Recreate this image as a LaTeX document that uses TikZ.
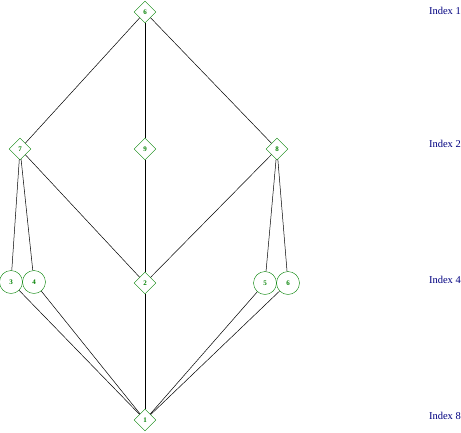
\documentclass[tikz,border=0pt]{standalone}
\usepackage{fontspec}
\setmainfont{Liberation Serif}
\usetikzlibrary{shapes.geometric}
\definecolor{nodegreen}{RGB}{0,128,0}
\definecolor{idxblue}{RGB}{0,0,128}
\tikzset{
  dnode/.style={diamond,draw=nodegreen,text=nodegreen,inner sep=0pt,minimum width=22pt,minimum height=22pt,font=\fontsize{7}{7}\selectfont\bfseries},
  cnode/.style={circle,draw=nodegreen,text=nodegreen,inner sep=0pt,minimum size=23pt,font=\fontsize{7}{7}\selectfont\bfseries},
  idx/.style={text=idxblue,anchor=east,inner sep=0pt,font=\fontsize{10.5}{11}\selectfont},
  edge/.style={draw=black,line width=0.5pt}
}
\begin{document}
\begin{tikzpicture}[x=1pt,y=-1pt]
\useasboundingbox (0,0) rectangle (461,432);
\node[dnode] (n6) at (145,12) {6};
\node[dnode] (n7) at (20,149) {7};
\node[dnode] (n9) at (145,149) {9};
\node[dnode] (n8) at (277,149) {8};
\node[cnode] (n3) at (11,282) {3};
\node[cnode] (n4) at (34,282) {4};
\node[dnode] (n2) at (145,283) {2};
\node[cnode] (n5) at (265,283) {5};
\node[cnode] (n6b) at (288,283) {6};
\node[dnode] (n1) at (145,420) {1};
\node[idx] (i1) at (461,11) {Index 1};
\node[idx] (i2) at (461,144) {Index 2};
\node[idx] (i4) at (461,280) {Index 4};
\node[idx] (i8) at (461,416) {Index 8};
\draw[edge] (n6) -- (n7);
\draw[edge] (n6) -- (n9);
\draw[edge] (n6) -- (n8);
\draw[edge] (n7) -- (n3);
\draw[edge] (n7) -- (n4);
\draw[edge] (n7) -- (n2);
\draw[edge] (n9) -- (n2);
\draw[edge] (n8) -- (n2);
\draw[edge] (n8) -- (n5);
\draw[edge] (n8) -- (n6b);
\draw[edge] (n3) -- (n1);
\draw[edge] (n4) -- (n1);
\draw[edge] (n2) -- (n1);
\draw[edge] (n5) -- (n1);
\draw[edge] (n6b) -- (n1);
\end{tikzpicture}
\end{document}
